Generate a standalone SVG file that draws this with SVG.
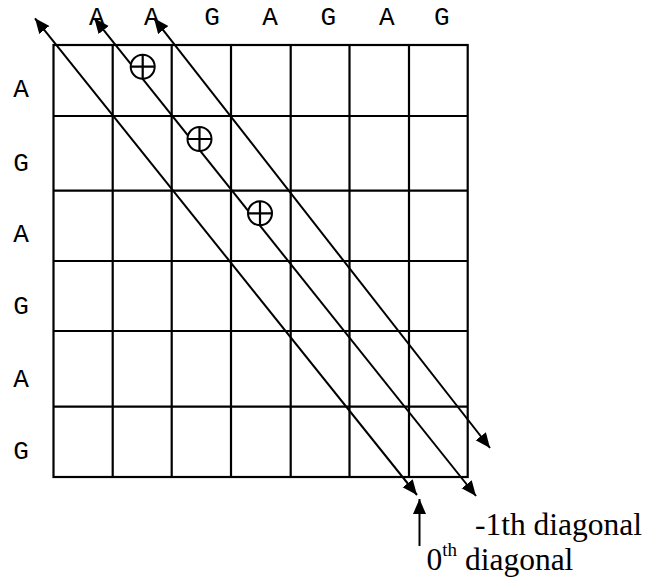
<svg xmlns="http://www.w3.org/2000/svg" width="646" height="577" viewBox="0 0 646 577">
<style>
.g{stroke:#000;stroke-width:2.2;fill:none}
.d{stroke:#000;stroke-width:2;fill:none;marker-start:url(#ah);marker-end:url(#ah)}
.seq{font-family:"Liberation Mono","Courier New",monospace;font-size:26px;fill:#000;text-anchor:middle}
.lab{font-family:"Liberation Serif","Times New Roman",serif;font-size:31.5px;fill:#000}
.xo{stroke:#000;stroke-width:2;fill:#fff}
</style>
<defs>
<marker id="ah" markerUnits="userSpaceOnUse" markerWidth="16" markerHeight="14" refX="15" refY="6.5" orient="auto-start-reverse">
<path d="M0,0 L15,6.5 L0,13 z" fill="#000"/>
</marker>
</defs>
<rect width="646" height="577" fill="#fff"/>
<g id="grid">
<rect class="g" x="53.5" y="45" width="414.2" height="432"/>
<path class="g" d="M112.7,45V477M171.7,45V477M231,45V477M290.7,45V477M349.5,45V477M409,45V477M53.5,116H467.7M53.5,190.7H467.7M53.5,261H467.7M53.5,331H467.7M53.5,406.7H467.7"/>
</g>
<g id="top-seq">
<text class="seq" x="96.7" y="25">A</text>
<text class="seq" x="151.7" y="25">A</text>
<text class="seq" x="212" y="25">G</text>
<text class="seq" x="270" y="25">A</text>
<text class="seq" x="328.3" y="25">G</text>
<text class="seq" x="386.7" y="25">A</text>
<text class="seq" x="441.7" y="25">G</text>
</g>
<g id="left-seq">
<text class="seq" x="21" y="96.7">A</text>
<text class="seq" x="21" y="171">G</text>
<text class="seq" x="21" y="241.7">A</text>
<text class="seq" x="21" y="314">G</text>
<text class="seq" x="21" y="386.7">A</text>
<text class="seq" x="21" y="459">G</text>
</g>
<g id="connectors">
<line class="d" x1="35" y1="18.3" x2="417" y2="495"/>
<line class="d" x1="94.3" y1="18.3" x2="476" y2="496"/>
<line class="d" x1="154" y1="18.3" x2="490" y2="448"/>
<line x1="419.5" y1="546" x2="419.5" y2="499" stroke="#000" stroke-width="2" marker-end="url(#ah)"/>
</g>
<g id="xor1"><circle class="xo" cx="142.7" cy="66.7" r="12"/><path class="g" stroke-width="2" d="M130.7,66.7H154.7M142.7,54.7V78.7"/></g>
<g id="xor2"><circle class="xo" cx="199.5" cy="139" r="12"/><path class="g" stroke-width="2" d="M187.5,139H211.5M199.5,127V151"/></g>
<g id="xor3"><circle class="xo" cx="260" cy="213.3" r="12"/><path class="g" stroke-width="2" d="M248,213.3H272M260,201.3V225.3"/></g>
<g id="label-m1">
<text class="lab" x="475" y="535">-1th diagonal</text>
</g>
<g id="label-0">
<text class="lab" x="426.5" y="570">0<tspan font-size="19" dy="-14">th</tspan><tspan dy="14"> diagonal</tspan></text>
</g>
</svg>
